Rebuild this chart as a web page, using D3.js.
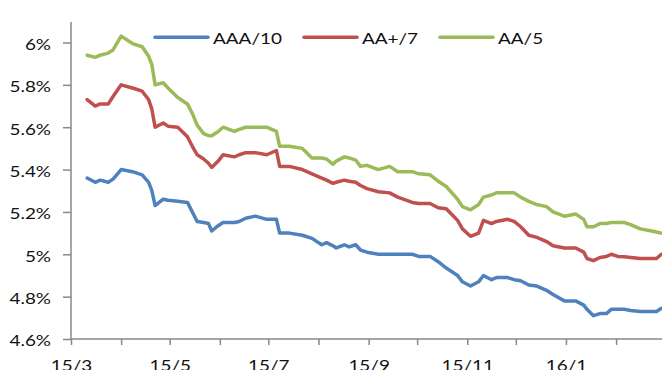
<!DOCTYPE html>
<html><head><meta charset="utf-8">
<script src="https://cdn.jsdelivr.net/npm/d3@7"></script>
<style>html,body{margin:0;padding:0;background:#fff;overflow:hidden}</style>
</head><body>
<svg id="c" width="662" height="370"></svg>
<script>
const dates = ["2015-03-11","2015-03-16","2015-03-19","2015-03-24","2015-03-27","2015-04-01","2015-04-08","2015-04-14","2015-04-18","2015-04-20",
"2015-04-22","2015-04-27","2015-04-30","2015-05-06","2015-05-12","2015-05-15","2015-05-18","2015-05-22","2015-05-25","2015-05-27",
"2015-05-31","2015-06-03","2015-06-10","2015-06-13","2015-06-17","2015-06-23","2015-06-30","2015-07-06","2015-07-08","2015-07-14",
"2015-07-22","2015-07-28","2015-08-03","2015-08-06","2015-08-10","2015-08-12","2015-08-17","2015-08-20","2015-08-24","2015-08-27",
"2015-08-31","2015-09-07","2015-09-14","2015-09-19","2015-09-28","2015-10-02","2015-10-09","2015-10-14","2015-10-19","2015-10-26",
"2015-10-29","2015-11-03","2015-11-08","2015-11-11","2015-11-16","2015-11-19","2015-11-26","2015-11-30","2015-12-04","2015-12-09",
"2015-12-14","2015-12-20","2015-12-24","2015-12-31","2016-01-07","2016-01-12","2016-01-14","2016-01-18","2016-01-22","2016-01-26",
"2016-01-29","2016-02-02","2016-02-06","2016-02-10","2016-02-16","2016-02-23","2016-02-26","2016-02-29"];

const aaa10 = [5.36,5.34,5.35,5.34,5.355,5.40,5.39,5.375,5.34,5.30,
5.23,5.26,5.255,5.25,5.245,5.20,5.155,5.15,5.145,5.11,
5.135,5.15,5.15,5.155,5.17,5.18,5.165,5.165,5.10,5.10,
5.09,5.075,5.045,5.055,5.04,5.03,5.045,5.035,5.045,5.02,
5.01,5.00,5.00,5.00,5.00,4.99,4.99,4.965,4.935,4.90,
4.87,4.85,4.87,4.90,4.88,4.89,4.89,4.88,4.875,4.855,
4.85,4.83,4.81,4.78,4.78,4.76,4.74,4.71,4.72,4.72,
4.74,4.74,4.74,4.735,4.73,4.73,4.73,4.745];

const aaPlus7 = [5.73,5.70,5.71,5.71,5.745,5.80,5.785,5.77,5.73,5.685,
5.60,5.62,5.605,5.60,5.555,5.51,5.47,5.45,5.43,5.41,
5.44,5.47,5.46,5.47,5.48,5.48,5.47,5.49,5.415,5.415,
5.40,5.38,5.36,5.35,5.335,5.34,5.35,5.345,5.34,5.325,
5.31,5.295,5.29,5.27,5.245,5.24,5.24,5.22,5.215,5.16,
5.12,5.085,5.10,5.16,5.145,5.155,5.165,5.155,5.13,5.09,
5.08,5.06,5.04,5.03,5.03,5.01,4.98,4.97,4.985,4.99,
5.00,4.99,4.988,4.985,4.98,4.98,4.98,5.00];

const aa5 = [5.94,5.93,5.94,5.95,5.965,6.03,5.995,5.98,5.935,5.895,
5.80,5.81,5.785,5.74,5.71,5.665,5.61,5.57,5.56,5.56,
5.58,5.60,5.58,5.59,5.60,5.60,5.60,5.58,5.51,5.51,
5.50,5.455,5.455,5.45,5.425,5.44,5.46,5.455,5.445,5.415,
5.42,5.40,5.415,5.39,5.39,5.38,5.375,5.345,5.32,5.26,
5.225,5.21,5.235,5.27,5.28,5.29,5.29,5.29,5.27,5.25,
5.235,5.225,5.20,5.18,5.19,5.165,5.13,5.13,5.145,5.145,
5.15,5.15,5.15,5.14,5.12,5.11,5.105,5.10];

const seriesNames = ["AAA/10","AA+/7","AA/5"];
const yTicks = [4.6,4.8,5.0,5.2,5.4,5.6,5.8,6.0];
const tickMonths = ["2015-03","2015-04","2015-05","2015-06","2015-07","2015-08","2015-09","2015-10","2015-11","2015-12","2016-01","2016-02"];
const tickLabels = ["15/3","","15/5","","15/7","","15/9","","15/11","","16/1",""];

const colors = ["#4F81BD","#C0504D","#9BBB59"];
const FONT = "Lato, 'Open Sans', sans-serif";
const FS = 15.5, SX = 1.22;

const parse = d3.timeParse("%Y-%m-%d");
const parseM = d3.timeParse("%Y-%m");
const svg = d3.select("#c");

const x = d3.scaleTime().domain([new Date(2015,2,1), new Date(2016,2,1)]).range([71, 663]);
const y = d3.scaleLinear().domain([4.6, 6.0]).range([339, 42.5]);

const axisColor = "#888888";

// Y axis
const yAxis = d3.axisLeft(y).tickValues(yTicks).tickSize(8).tickSizeOuter(0)
  .tickFormat(d => (+d.toFixed(1)) + "%");
const gy = svg.append("g").attr("transform","translate(71,0)").call(yAxis);
gy.select(".domain").remove();
gy.append("line").attr("x1",0).attr("x2",0).attr("y1",y(4.6)).attr("y2",22)
  .attr("stroke",axisColor).attr("stroke-width",1.5);
gy.selectAll(".tick line").attr("stroke",axisColor).attr("stroke-width",1.5);
gy.selectAll(".tick text").attr("x",-20).attr("dy",null).attr("y",6.8)
  .attr("fill","#111").style("font-family",FONT).style("font-size",FS+"px");

// X axis
const tickDates = tickMonths.map(parseM);
const xAxis = d3.axisBottom(x).tickValues(tickDates).tickSize(6).tickSizeOuter(0)
  .tickFormat((d,i) => tickLabels[i]);
const gx = svg.append("g").attr("transform","translate(0,339)").call(xAxis);
gx.select(".domain").remove();
gx.append("line").attr("x1",71).attr("x2",662).attr("y1",0).attr("y2",0)
  .attr("stroke",axisColor).attr("stroke-width",1.5);
gx.selectAll(".tick line").attr("stroke",axisColor).attr("stroke-width",1.5);
gx.selectAll(".tick text").attr("y",31.5).attr("dy",null)
  .attr("fill","#111").style("font-family",FONT).style("font-size",FS+"px");
gx.attr("font-size",null); gy.attr("font-size",null);

// Lines
const allSeries = [aaa10, aaPlus7, aa5];
const pdates = dates.map(parse);
const line = d3.line().x((d,i) => x(pdates[i])).y(d => y(d));
svg.append("g").selectAll("path").data(allSeries).join("path")
  .attr("d", d => line(d))
  .attr("fill","none").attr("stroke",(d,i)=>colors[i])
  .attr("stroke-width",3.5).attr("stroke-linejoin","round").attr("stroke-linecap","round");

// Legend
const legX = [155, 304, 440];
const lg = svg.append("g").selectAll("g").data(seriesNames).join("g");
lg.append("line").attr("x1",(d,i)=>legX[i]).attr("x2",(d,i)=>legX[i]+53)
  .attr("y1",37.3).attr("y2",37.3).attr("stroke",(d,i)=>colors[i])
  .attr("stroke-width",3.5).attr("stroke-linecap","round");
lg.append("text").attr("x",(d,i)=>legX[i]+58).attr("y",43.5).text(d=>d)
  .attr("fill","#111").style("font-family",FONT).style("font-size",FS+"px");

// horizontal stretch of text to match reference glyph widths
svg.selectAll("text").each(function(){
  const w = this.getComputedTextLength();
  if (w > 0) {
    this.setAttribute("textLength", w*SX);
    this.setAttribute("lengthAdjust","spacingAndGlyphs");
  }
});
</script>
</body></html>
